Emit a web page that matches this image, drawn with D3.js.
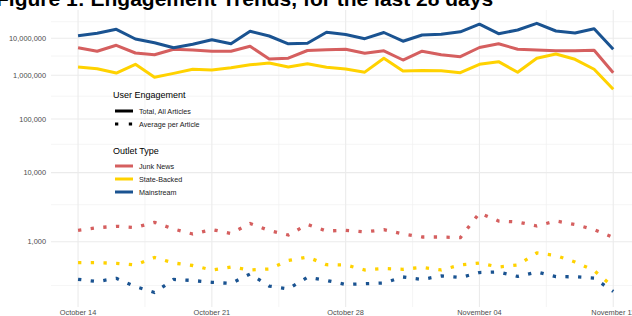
<!DOCTYPE html>
<html>
<head>
<meta charset="utf-8">
<script src="https://cdn.jsdelivr.net/npm/d3@7"></script>
<style>
  body { margin: 0; background: #fff; }
  svg { display: block; font-family: "Liberation Sans", Arial, sans-serif; }
</style>
</head>
<body>
<svg width="632" height="316"></svg>
<script>
// one value per day, Oct 14 - Nov 11
var days = ["2018-10-14", "2018-10-15", "2018-10-16", "2018-10-17", "2018-10-18", "2018-10-19", "2018-10-20",
    "2018-10-21", "2018-10-22", "2018-10-23", "2018-10-24", "2018-10-25", "2018-10-26", "2018-10-27",
    "2018-10-28", "2018-10-29", "2018-10-30", "2018-10-31", "2018-11-01", "2018-11-02", "2018-11-03",
    "2018-11-04", "2018-11-05", "2018-11-06", "2018-11-07", "2018-11-08", "2018-11-09", "2018-11-10",
    "2018-11-11"];

var outletTypes = ["Junk News", "State-Backed", "Mainstream"];
var outletColors = ["#d55f5f", "#ffd200", "#1a5391"];

// total engagement, all articles
var junkTotal = [5380000, 4280000, 6290000, 3840000, 3450000, 4860000, 4650000, 4280000, 4280000, 5900000,
    2640000, 2770000, 4500000, 4730000, 4860000, 3770000, 4410000, 2480000, 4300000, 3450000, 3040000,
    5450000, 6990000, 4860000, 4650000, 4440000, 4440000, 4560000, 1160000];
var stateTotal = [1630000, 1470000, 1140000, 1910000, 891000, 1120000, 1420000, 1360000, 1560000, 1860000,
    2070000, 1630000, 1980000, 1610000, 1440000, 1200000, 2760000, 1280000, 1320000, 1300000, 1160000,
    1910000, 2240000, 1190000, 2760000, 3600000, 2590000, 1420000, 457000];
var mainTotal = [11920000, 14040000, 18510000, 9540000, 7460000, 5380000, 6720000, 9110000, 6990000, 16230000,
    11680000, 6940000, 7170000, 15040000, 12930000, 9740000, 14830000, 8240000, 12500000, 13110000, 15560000,
    26520000, 13660000, 17630000, 28280000, 16450000, 14330000, 19310000, 4860000];

// average engagement per article
var junkAvg = [1399, 1514, 1581, 1523, 1788, 1455, 1252, 1433, 1272, 1723, 1391, 1216, 1671, 1370, 1399,
    1330, 1425, 1252, 1147, 1147, 1123, 2404, 1863, 1805, 1595, 1863, 1671, 1425, 1130];
var stateAvg = [561, 561, 552, 528, 644, 556, 521, 464, 501, 464, 476, 594, 653, 532, 528, 464, 482, 472,
    497, 464, 528, 556, 501, 528, 728, 680, 571, 458, 305];
var mainAvg = [367, 348, 376, 308, 268, 366, 357, 341, 332, 419, 312, 291, 386, 357, 324, 330, 336, 389,
    366, 399, 384, 435, 441, 394, 441, 392, 391, 379, 274];

var yMajor = [1000, 10000, 100000, 1000000, 10000000];
var yMinor = [316, 3162, 31623, 316228, 3162278, 31622777];
var xTicks = ["2018-10-14", "2018-10-21", "2018-10-28", "2018-11-04", "2018-11-11"];
var xMinor = ["2018-10-17T12:00", "2018-10-24T12:00", "2018-10-31T12:00", "2018-11-07T12:00"];

var svg = d3.select("svg");
var parse = d3.isoParse;
var dates = days.map(parse);

var pad = 1.4 * 864e5;
var x = d3.scaleTime()
    .domain([new Date(+dates[0] - pad), new Date(+dates[dates.length - 1] + pad)])
    .range([51.3, 640]);

// y axis is log of log
var ll = function (v) { return Math.log10(Math.log10(v)); };
var yT = d3.scaleLinear().domain([ll(1000), ll(10000000)]).range([241.7, 38.3]);
var y = function (v) { return yT(ll(v)); };

var panelTop = 10, panelBottom = 307;

var grid = svg.append("g").attr("class", "grid");
grid.selectAll("line.ymin").data(yMinor).enter().append("line")
    .attr("x1", 51).attr("x2", 632)
    .attr("y1", y).attr("y2", y)
    .attr("stroke", "#f1f1f1").attr("stroke-width", 0.7);
grid.selectAll("line.xmin").data(xMinor).enter().append("line")
    .attr("x1", function (d) { return x(parse(d)); })
    .attr("x2", function (d) { return x(parse(d)); })
    .attr("y1", panelTop).attr("y2", panelBottom)
    .attr("stroke", "#f1f1f1").attr("stroke-width", 0.7);
grid.selectAll("line.ymaj").data(yMajor).enter().append("line")
    .attr("x1", 51).attr("x2", 632)
    .attr("y1", y).attr("y2", y)
    .attr("stroke", "#ebebeb").attr("stroke-width", 1.1);
grid.selectAll("line.xmaj").data(xTicks).enter().append("line")
    .attr("x1", function (d) { return x(parse(d)); })
    .attr("x2", function (d) { return x(parse(d)); })
    .attr("y1", panelTop).attr("y2", panelBottom)
    .attr("stroke", "#ebebeb").attr("stroke-width", 1.1);

// axis labels
var fmt = d3.format(",");
svg.append("g").selectAll("text").data(yMajor).enter().append("text")
    .attr("x", 46).attr("y", function (d) { return y(d) + 2.6; })
    .attr("text-anchor", "end")
    .attr("font-size", 7.4).attr("fill", "#4d4d4d")
    .text(fmt);

var dayFmt = d3.timeFormat("%B %d");
svg.append("g").selectAll("text").data(xTicks).enter().append("text")
    .attr("x", function (d) { return x(parse(d)); })
    .attr("y", 315.3)
    .attr("text-anchor", "middle")
    .attr("font-size", 7.4).attr("fill", "#4d4d4d")
    .text(function (d) { return dayFmt(parse(d)); });

// series
var line = d3.line()
    .x(function (d, i) { return x(dates[i]); })
    .y(function (d) { return y(d); });

var avgs = [junkAvg, stateAvg, mainAvg];
var totals = [junkTotal, stateTotal, mainTotal];

svg.append("g").selectAll("path").data(avgs).enter().append("path")
    .attr("d", line)
    .attr("fill", "none")
    .attr("stroke", function (d, i) { return outletColors[i]; })
    .attr("stroke-width", 3.3)
    .attr("stroke-dasharray", "3.3 9.4")
    .attr("stroke-linejoin", "round");

svg.append("g").selectAll("path").data(totals).enter().append("path")
    .attr("d", line)
    .attr("fill", "none")
    .attr("stroke", function (d, i) { return outletColors[i]; })
    .attr("stroke-width", 3)
    .attr("stroke-linejoin", "round");

// legend
var legend = svg.append("g");
legend.append("text").attr("x", 113).attr("y", 98)
    .attr("font-size", 9).attr("fill", "#000").text("User Engagement");
var styles = [{label: "Total, All Articles", dash: null}, {label: "Average per Article", dash: "3.3 10.5"}];
styles.forEach(function (s, i) {
    var ly = 111 + i * 13;
    legend.append("line").attr("x1", 115).attr("x2", 133).attr("y1", ly).attr("y2", ly)
        .attr("stroke", "#000").attr("stroke-width", 3)
        .attr("stroke-dasharray", s.dash);
    legend.append("text").attr("x", 139).attr("y", ly + 2.6)
        .attr("font-size", 7.2).attr("fill", "#1a1a1a").text(s.label);
});

legend.append("text").attr("x", 113).attr("y", 154)
    .attr("font-size", 9).attr("fill", "#000").text("Outlet Type");
outletTypes.forEach(function (t, i) {
    var ly = 166 + i * 13;
    legend.append("line").attr("x1", 115).attr("x2", 133).attr("y1", ly).attr("y2", ly)
        .attr("stroke", outletColors[i]).attr("stroke-width", 3);
    legend.append("text").attr("x", 139).attr("y", ly + 2.6)
        .attr("font-size", 7.2).attr("fill", "#1a1a1a").text(t);
});

// title, clipped at the top like the original
svg.append("text").attr("x", -4).attr("y", 6)
    .attr("font-size", 21).attr("font-weight", "bold").attr("fill", "#000")
    .text("Figure 1: Engagement Trends, for the last 28 days");
</script>
</body>
</html>
